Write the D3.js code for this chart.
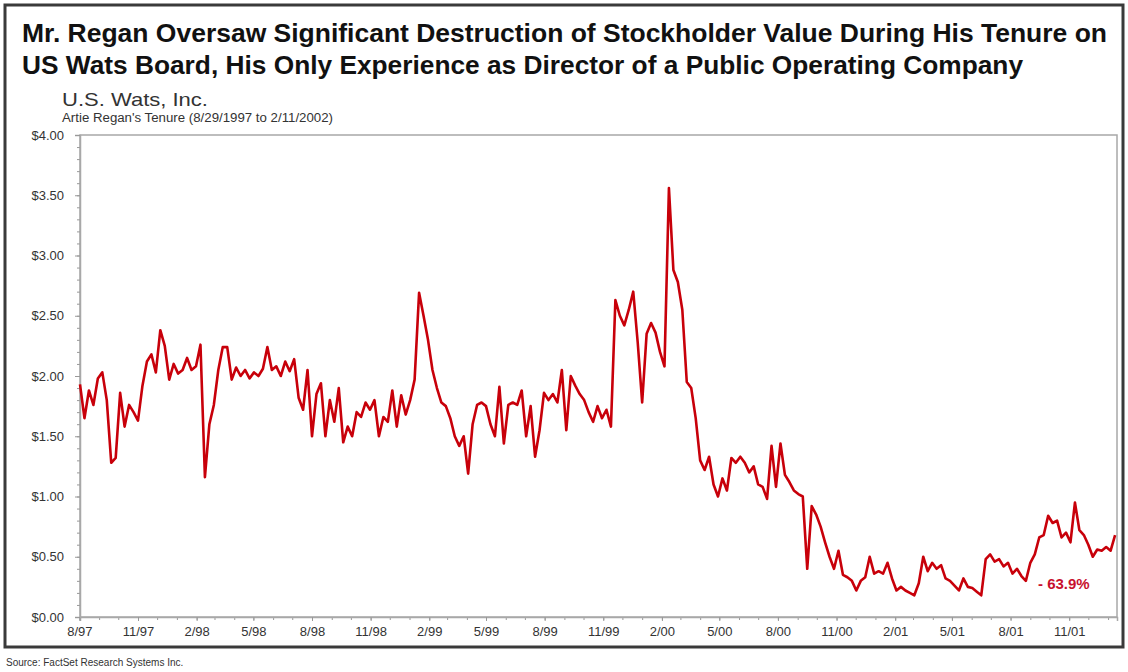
<!DOCTYPE html>
<html>
<head>
<meta charset="utf-8">
<script src="https://cdn.jsdelivr.net/npm/d3@7"></script>
<style>
  body { margin: 0; background: #fff; }
  svg { display: block; }
  .narrow { font-family: "Liberation Sans Narrow", "Arial Narrow", "Liberation Sans", Arial, sans-serif; }
</style>
</head>
<body>
<svg></svg>
<script>
const w = 1128;
const h = 672;

// data
const titleLines = [
  'Mr. Regan Oversaw Significant Destruction of Stockholder Value During His Tenure on',
  'US Wats Board, His Only Experience as Director of a Public Operating Company'
];
const company = 'U.S. Wats, Inc.';
const tenure = "Artie Regan's Tenure (8/29/1997 to 2/11/2002)";
const source = 'Source: FactSet Research Systems Inc.';
const changeLabel = '- 63.9%';

const startDate = '1997-08-29';
const endDate = '2002-02-11';
const firstTick = '1997-08-28';
const yTicks = [0, 0.5, 1, 1.5, 2, 2.5, 3, 3.5, 4];

// weekly closing price
const weeklyClose = [
  1.93, 1.65, 1.88, 1.76, 1.98, 2.03, 1.80, 1.28, 1.32, 1.86,
  1.58, 1.76, 1.70, 1.63, 1.92, 2.12, 2.18, 2.03, 2.38, 2.25,
  1.97, 2.10, 2.02, 2.05, 2.15, 2.05, 2.08, 2.26, 1.16, 1.60,
  1.76, 2.05, 2.24, 2.24, 1.97, 2.07, 2.00, 2.05, 1.98, 2.03,
  2.00, 2.06, 2.24, 2.05, 2.08, 2.00, 2.12, 2.04, 2.14, 1.82,
  1.72, 2.05, 1.50, 1.85, 1.94, 1.50, 1.80, 1.62, 1.90, 1.45,
  1.58, 1.50, 1.70, 1.66, 1.78, 1.72, 1.80, 1.50, 1.66, 1.62,
  1.88, 1.58, 1.84, 1.68, 1.80, 1.97, 2.69, 2.50, 2.30, 2.05,
  1.90, 1.78, 1.75, 1.65, 1.50, 1.42, 1.50, 1.19, 1.60, 1.76,
  1.78, 1.75, 1.60, 1.50, 1.91, 1.44, 1.76, 1.78, 1.76, 1.88,
  1.50, 1.75, 1.33, 1.55, 1.86, 1.80, 1.85, 1.78, 2.05, 1.55,
  2.00, 1.92, 1.85, 1.80, 1.70, 1.62, 1.75, 1.65, 1.72, 1.58,
  2.63, 2.50, 2.42, 2.55, 2.70, 2.28, 1.78, 2.35, 2.44, 2.36,
  2.20, 2.08, 3.56, 2.88, 2.78, 2.55, 1.95, 1.90, 1.65, 1.30,
  1.22, 1.33, 1.10, 1.00, 1.15, 1.05, 1.32, 1.28, 1.33, 1.28,
  1.20, 1.25, 1.10, 1.08, 0.98, 1.42, 1.08, 1.44, 1.18, 1.12,
  1.05, 1.02, 1.00, 0.40, 0.92, 0.85, 0.75, 0.62, 0.50, 0.40,
  0.55, 0.35, 0.33, 0.30, 0.22, 0.30, 0.33, 0.50, 0.36, 0.38,
  0.36, 0.45, 0.32, 0.22, 0.25, 0.22, 0.20, 0.18, 0.28, 0.50,
  0.38, 0.45, 0.40, 0.43, 0.32, 0.30, 0.26, 0.22, 0.32, 0.25,
  0.24, 0.21, 0.18, 0.48, 0.52, 0.46, 0.48, 0.42, 0.45, 0.36,
  0.40, 0.34, 0.30, 0.45, 0.52, 0.66, 0.68, 0.84, 0.78, 0.80,
  0.66, 0.70, 0.62, 0.95, 0.72, 0.68, 0.60, 0.50, 0.56, 0.55,
  0.58, 0.55, 0.68
];

const parse = d3.timeParse('%Y-%m-%d');
const t0 = parse(startDate);
const t1 = parse(endDate);
const tick0 = parse(firstTick);
const series = weeklyClose.map((v, i) => ({ date: d3.timeDay.offset(t0, 7 * i), value: v }));

const svg = d3.select('svg')
  .attr('width', w)
  .attr('height', h);

// outer frame
svg.append('rect')
  .attr('x', 5).attr('y', 5)
  .attr('width', 1118).attr('height', 642)
  .attr('fill', '#fff')
  .attr('stroke', '#3a3a3a')
  .attr('stroke-width', 3);

// titles
svg.selectAll('.title')
  .data(titleLines)
  .enter()
  .append('text')
  .attr('class', 'title narrow')
  .attr('x', 22)
  .attr('y', (d, i) => 42 + i * 32)
  .attr('textLength', (d, i) => i === 0 ? 1085 : 1001)
  .attr('lengthAdjust', 'spacingAndGlyphs')
  .style('font-size', '26px')
  .style('font-weight', 'bold')
  .style('fill', '#111')
  .text(d => d);

svg.append('text')
  .attr('class', 'narrow')
  .attr('x', 62).attr('y', 106)
  .attr('textLength', 146)
  .attr('lengthAdjust', 'spacingAndGlyphs')
  .style('font-size', '19px')
  .style('fill', '#333')
  .text(company);

svg.append('text')
  .attr('class', 'narrow')
  .attr('x', 62).attr('y', 122)
  .attr('textLength', 271)
  .attr('lengthAdjust', 'spacingAndGlyphs')
  .style('font-size', '12px')
  .style('fill', '#333')
  .text(tenure);

// scales
const padL = 80, padR = 1117, padT = 135, padB = 617;

const xScale = d3.scaleTime()
  .domain([t0, t1])
  .range([padL, padR]);

const yScale = d3.scaleLinear()
  .domain([0, 4])
  .range([padB, padT]);

// plot frame
svg.append('rect')
  .attr('x', padL).attr('y', padT)
  .attr('width', padR - padL).attr('height', padB - padT)
  .attr('fill', 'none')
  .attr('stroke', '#a8a8a8')
  .attr('stroke-width', 1.5);

// axes
const quarterTicks = d3.range(0, 18).map(k => d3.timeMonth.offset(tick0, 3 * k));
const monthTicks = d3.range(0, 54).map(k => d3.timeMonth.offset(tick0, k));

const xMinor = d3.axisBottom(xScale)
  .tickValues(monthTicks)
  .tickSize(3)
  .tickFormat('');

svg.append('g')
  .attr('transform', 'translate(0,' + padB + ')')
  .call(xMinor)
  .call(g => g.select('.domain').remove());

const xAxis = d3.axisBottom(xScale)
  .tickValues(quarterTicks)
  .tickSize(4)
  .tickPadding(6)
  .tickFormat(d3.timeFormat('%-m/%y'));

svg.append('g')
  .attr('id', 'x-axis')
  .attr('transform', 'translate(0,' + padB + ')')
  .call(xAxis);

const yMinor = d3.axisLeft(yScale)
  .tickValues(d3.range(0, 41).map(k => k / 10))
  .tickSize(3)
  .tickFormat('');

svg.append('g')
  .attr('transform', 'translate(' + padL + ',0)')
  .call(yMinor)
  .call(g => g.select('.domain').remove());

const yAxis = d3.axisLeft(yScale)
  .tickValues(yTicks)
  .tickSize(5)
  .tickPadding(11)
  .tickFormat(d3.format('$.2f'));

svg.append('g')
  .attr('id', 'y-axis')
  .attr('transform', 'translate(' + padL + ',0)')
  .call(yAxis);

svg.selectAll('#x-axis, #y-axis')
  .selectAll('text')
  .attr('class', 'narrow')
  .style('font-size', '13px')
  .style('fill', '#333');

svg.selectAll('.tick line').attr('stroke', '#999');
svg.selectAll('.domain').attr('stroke', '#a8a8a8').attr('stroke-width', 1.5);

// price line
const line = d3.line()
  .x(d => xScale(d.date))
  .y(d => yScale(d.value));

svg.append('path')
  .datum(series)
  .attr('d', line)
  .attr('fill', 'none')
  .attr('stroke', '#c8000a')
  .attr('stroke-width', 2.6)
  .attr('stroke-linejoin', 'round');

// change label
svg.append('text')
  .attr('x', 1038)
  .attr('y', yScale(0.235))
  .style('font-family', '"Liberation Sans", Arial, sans-serif')
  .style('font-size', '15px')
  .style('font-weight', 'bold')
  .style('fill', '#c8102e')
  .text(changeLabel);

// source
svg.append('text')
  .attr('x', 6).attr('y', 666)
  .attr('class', 'narrow')
  .style('font-size', '10px')
  .style('fill', '#333')
  .text(source);
</script>
</body>
</html>
